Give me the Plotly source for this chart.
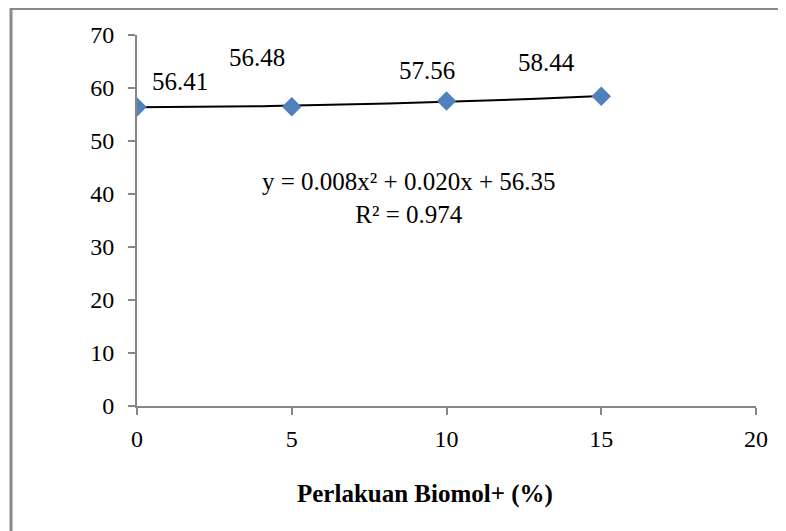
import numpy as np
import plotly.graph_objects as go

# Data
x_vals = [0, 5, 10, 15]
y_vals = [56.41, 56.48, 57.56, 58.44]
labels = ["56.41", "56.48", "57.56", "58.44"]
x_ticks = [0, 5, 10, 15, 20]
y_ticks = [0, 10, 20, 30, 40, 50, 60, 70]
equation = "y = 0.008x² + 0.020x + 56.35<br>R² = 0.974"
x_title = "Perlakuan Biomol+ (%)"

# label offsets in pixels (style)
label_shift = [(43, 26), (-35, 49), (-20, 30), (-55, 34)]

W, H = 786, 531
L, R, T, B = 129, 38, 27, 133
pw, ph = W - L - R, H - T - B

coef = np.polyfit(x_vals, y_vals, 2)
xt = np.linspace(min(x_vals), max(x_vals), 60)
yt = np.polyval(coef, xt)

FONT = "Liberation Serif, Times New Roman, serif"

fig = go.Figure()
fig.add_trace(go.Scatter(x=xt, y=yt, mode="lines",
                         line=dict(color="black", width=2), hoverinfo="skip"))
fig.add_trace(go.Scatter(x=x_vals, y=y_vals, mode="markers",
                         marker=dict(symbol="diamond", size=15, color="#4F81BD",
                                     line=dict(width=0))))

for xv, yv, lab, (dx, dy) in zip(x_vals, y_vals, labels, label_shift):
    fig.add_annotation(x=xv, y=yv, text=lab, showarrow=False, xshift=dx, yshift=dy,
                       font=dict(family=FONT, size=25, color="black"))

fig.add_annotation(x=8.8, y=39.2, text=equation, showarrow=False,
                   font=dict(family=FONT, size=25, color="black"))

# x-axis title (placed as in the reference, slightly left of centre)
fig.add_annotation(xref="paper", yref="paper", x=0.5, y=0, xshift=-22, yshift=-88,
                   text="<b>" + x_title + "</b>", showarrow=False,
                   xanchor="center", yanchor="middle",
                   font=dict(family=FONT, size=25, color="black"))

# chart border (left and top edges visible)
def px2x(p):
    return (p - L) / pw
def py2y(p):
    return (H - B - p) / ph

border = dict(color="#8a8a8a", width=3)
fig.add_shape(type="line", xref="paper", yref="paper",
              x0=px2x(3), x1=px2x(3), y0=py2y(0), y1=py2y(540), line=border)
fig.add_shape(type="line", xref="paper", yref="paper",
              x0=px2x(2), x1=px2x(800), y0=py2y(0.5), y1=py2y(0.5), line=border)

axis_common = dict(showgrid=False, zeroline=False, showline=True,
                   linecolor="#868686", linewidth=2, ticks="outside",
                   tickcolor="#868686", tickwidth=2, ticklen=7,
                   tickfont=dict(family=FONT, size=24, color="black"))

fig.update_xaxes(range=[0, 20], tickvals=x_ticks, ticklabelstandoff=3,
                 **axis_common)
fig.update_yaxes(range=[0, 70], tickvals=y_ticks, ticklabelstandoff=9,
                 **axis_common)

fig.update_layout(width=W, height=H, showlegend=False,
                  margin=dict(l=L, r=R, t=T, b=B, autoexpand=False),
                  paper_bgcolor="white", plot_bgcolor="white")

fig.write_html("out.html")
